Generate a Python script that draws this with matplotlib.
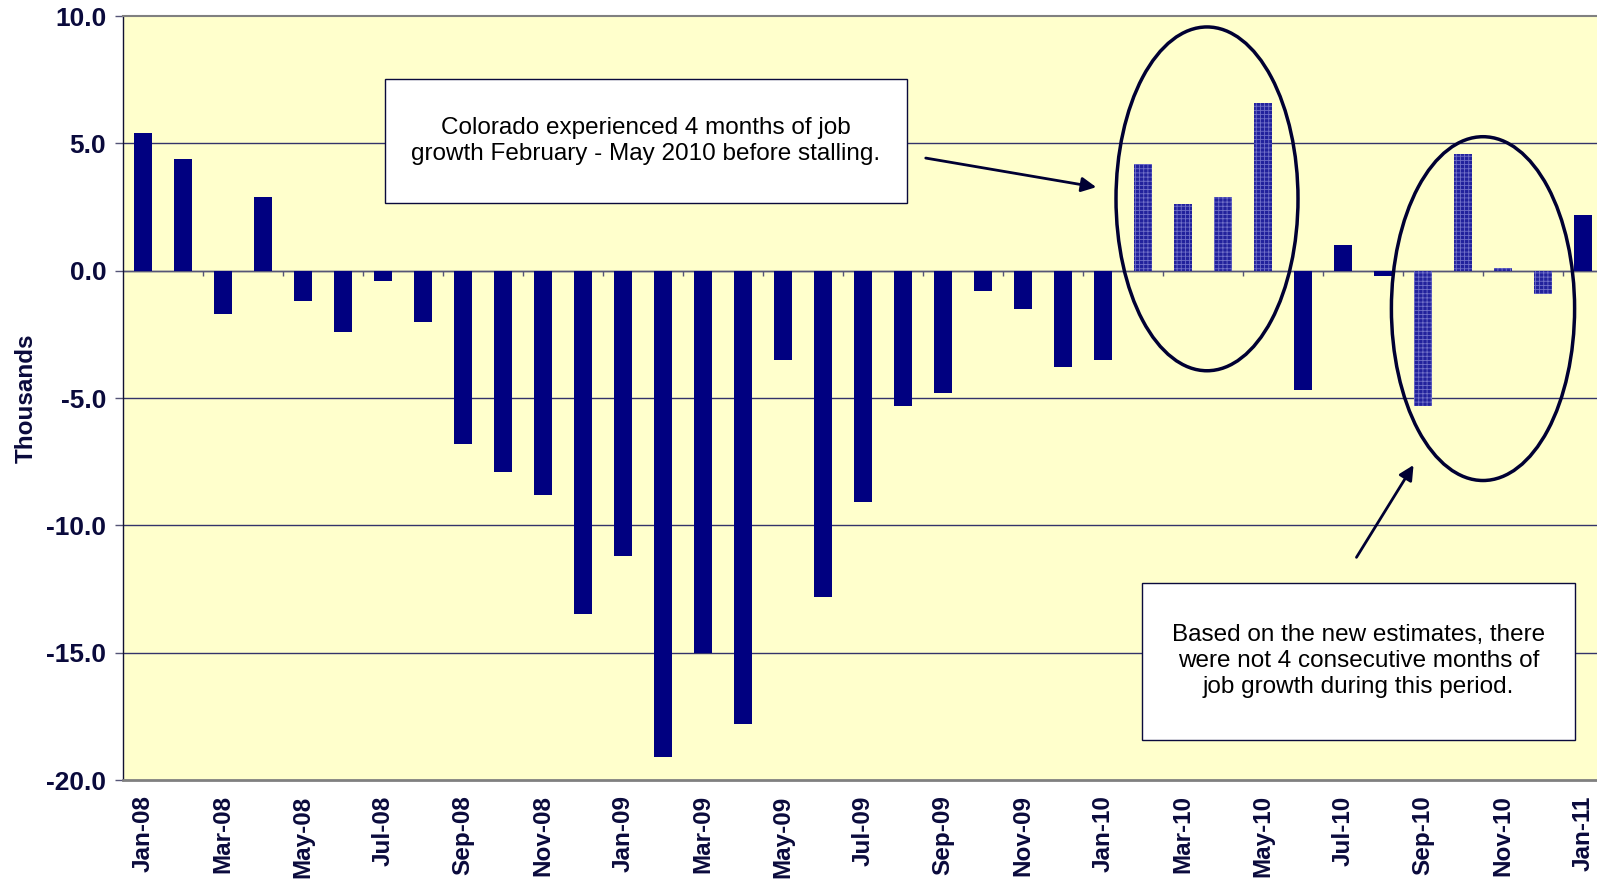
import numpy as np
import matplotlib
matplotlib.use('Agg')
import matplotlib.pyplot as plt
from matplotlib.patches import Ellipse, Rectangle

# Monthly job change (thousands), Jan-08 .. Jan-11
months = ['Jan-08', 'Feb-08', 'Mar-08', 'Apr-08', 'May-08', 'Jun-08', 'Jul-08', 'Aug-08',
          'Sep-08', 'Oct-08', 'Nov-08', 'Dec-08', 'Jan-09', 'Feb-09', 'Mar-09', 'Apr-09',
          'May-09', 'Jun-09', 'Jul-09', 'Aug-09', 'Sep-09', 'Oct-09', 'Nov-09', 'Dec-09',
          'Jan-10', 'Feb-10', 'Mar-10', 'Apr-10', 'May-10', 'Jun-10', 'Jul-10', 'Aug-10',
          'Sep-10', 'Oct-10', 'Nov-10', 'Dec-10', 'Jan-11']
values = [5.4, 4.4, -1.7, 2.9, -1.2, -2.4, -0.4, -2.0,
          -6.8, -7.9, -8.8, -13.5, -11.2, -19.1, -15.0, -17.8,
          -3.5, -12.8, -9.1, -5.3, -4.8, -0.8, -1.5, -3.8,
          -3.5, 4.2, 2.6, 2.9, 6.6, -4.7, 1.0, -0.2,
          -5.3, 4.6, 0.1, -0.9, 2.2]
highlight = ['Feb-10', 'Mar-10', 'Apr-10', 'May-10', 'Sep-10', 'Oct-10', 'Nov-10', 'Dec-10']

yticks = [10.0, 5.0, 0.0, -5.0, -10.0, -15.0, -20.0]

note1 = 'Colorado experienced 4 months of job\ngrowth February - May 2010 before stalling.'
note2 = 'Based on the new estimates, there\nwere not 4 consecutive months of\njob growth during this period.'

navy = '#000080'
txt = '#0a0a3c'
plt.rcParams['font.family'] = ['Liberation Sans', 'DejaVu Sans']
plt.rcParams['hatch.linewidth'] = 0.6

fig = plt.figure(figsize=(15.97, 8.82), dpi=100)
ax = fig.add_axes([123 / 1597, 102 / 882, 1480 / 1597, 764 / 882])
ax.set_facecolor('#FFFFCC')

x = np.arange(len(months))
for i, (m, v) in enumerate(zip(months, values)):
    if m in highlight:
        ax.bar(i, v, width=0.45, color='#22229c', edgecolor='#7070c8', hatch='++++',
               linewidth=0, zorder=3)
    else:
        ax.bar(i, v, width=0.45, color=navy, linewidth=0, zorder=3)

ax.set_xlim(-0.5, len(months) - 0.5)
ax.set_ylim(-20, 10)
ax.set_yticks(yticks)
ax.set_yticklabels([f'{t:.1f}' for t in yticks], fontsize=19, fontweight='bold', color=txt)
ax.set_xticks(x[::2])
ax.set_xticklabels(months[::2], rotation=90, fontsize=17.5, fontweight='bold', color=txt)
ax.tick_params(axis='x', length=0, pad=11)
ax.tick_params(axis='y', length=6, color='#555577', width=1, pad=6)
ax.set_ylabel('Thousands', fontsize=17.5, fontweight='bold', color=txt, labelpad=6)

for t in yticks:
    if -20 < t < 10:
        ax.axhline(t, color='#33336a', linewidth=1, zorder=1)
ax.axhline(0, color='#555577', linewidth=1, zorder=2)
# small category ticks on the zero line
bounds = x[::2] - 0.5
ax.vlines(bounds[1:], -0.22, 0, color='#555577', linewidth=1, zorder=2)

ax.spines['top'].set_color('#808080')
ax.spines['top'].set_linewidth(1.5)
ax.spines['bottom'].set_color('#808080')
ax.spines['bottom'].set_linewidth(2)
ax.spines['left'].set_color('#111133')
ax.spines['left'].set_linewidth(1)
ax.spines['right'].set_visible(False)

# annotation boxes
ax.add_patch(Rectangle((6.05, 2.67), 13.05, 4.87, facecolor='white', edgecolor='#0a0a3c',
                       linewidth=1, zorder=5))
ax.text(12.57, 5.1, note1, ha='center', va='center', fontsize=17.5, color='black',
        linespacing=1.25, zorder=6)
ax.add_patch(Rectangle((24.98, -18.41), 10.82, 6.16, facecolor='white', edgecolor='#0a0a3c',
                       linewidth=1, zorder=5))
ax.text(30.39, -15.33, note2, ha='center', va='center', fontsize=17.5, color='black',
        linespacing=1.25, zorder=6)

# ellipses
ax.add_patch(Ellipse((26.6, 2.82), 4.55, 13.5, fill=False, edgecolor='#000033',
                     linewidth=2.5, zorder=4))
ax.add_patch(Ellipse((33.5, -1.49), 4.58, 13.5, fill=False, edgecolor='#000033',
                     linewidth=2.5, zorder=4))

# arrows
ax.annotate('', xy=(23.9, 3.26), xytext=(19.5, 4.44),
            arrowprops=dict(arrowstyle='-|>', color='#000033', lw=2, mutation_scale=22),
            zorder=6)
ax.annotate('', xy=(31.8, -7.54), xytext=(30.3, -11.35),
            arrowprops=dict(arrowstyle='-|>', color='#000033', lw=2, mutation_scale=22),
            zorder=6)

fig.savefig('out.png', dpi=100)
